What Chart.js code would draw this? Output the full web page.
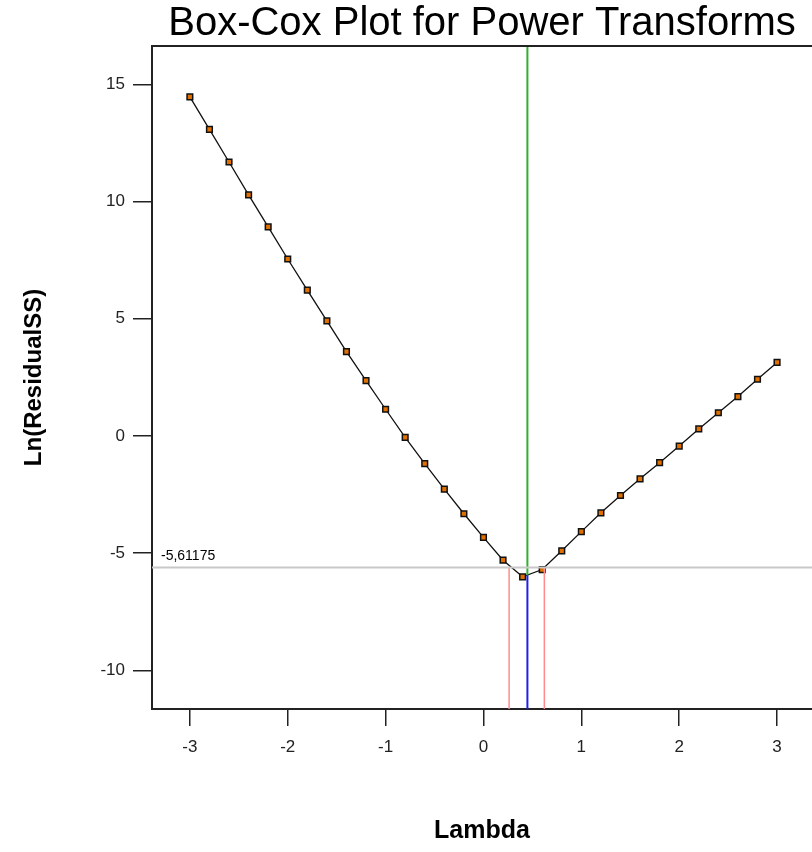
<!DOCTYPE html>
<html><head><meta charset="utf-8">
<script src="https://cdn.jsdelivr.net/npm/chart.js@4.4.1/dist/chart.umd.min.js"></script>
<style>html,body{margin:0;padding:0;background:#fff;} canvas{display:block;}</style>
</head><body>
<canvas id="c" width="812" height="852"></canvas>
<script>
// ---- data ----
const lambdas = [-3.0,-2.8,-2.6,-2.4,-2.2,-2.0,-1.8,-1.6,-1.4,-1.2,-1.0,-0.8,-0.6,-0.4,-0.2,0.0,0.2,0.4,0.6,0.8,1.0,1.2,1.4,1.6,1.8,2.0,2.2,2.4,2.6,2.8,3.0];
const lnResidualSS = [14.47,13.08,11.69,10.29,8.92,7.55,6.22,4.91,3.60,2.36,1.14,-0.06,-1.18,-2.27,-3.32,-4.33,-5.30,-6.01,-5.70,-4.90,-4.08,-3.28,-2.54,-1.83,-1.14,-0.43,0.30,0.99,1.68,2.42,3.14];
const xTicks = [-3,-2,-1,0,1,2,3];
const yTicks = [-10,-5,0,5,10,15];
const lambdaHat = 0.449;      // best lambda
const lnAtLambdaHat = -5.94;  // curve value at best lambda
const ciLow = 0.262, ciHigh = 0.622; // confidence limits
const cutoff = -5.61175;
const xRange = [-3.387, 3.357];
const yRange = [-11.65, 16.64];
const titleText = 'Box-Cox Plot for Power Transforms';
const xTitle = 'Lambda';
const yTitle = 'Ln(ResidualSS)';

Chart.defaults.font.family = '"Liberation Sans", Arial, sans-serif';
Chart.defaults.color = '#222';

const curve = lambdas.map((x,i)=>({x, y: lnResidualSS[i]}));
const seg = (x1,y1,x2,y2,color,w)=>({type:'line',data:[{x:x1,y:y1},{x:x2,y:y2}],borderColor:color,borderWidth:w,pointRadius:0,fill:false,tension:0});

const decor = {
  id:'decor',
  afterDraw(chart){
    const {ctx, chartArea:a, scales:{y}} = chart;
    ctx.save();
    ctx.strokeStyle = '#222'; ctx.lineWidth = 2;
    ctx.beginPath(); ctx.moveTo(a.left, a.top); ctx.lineTo(a.right, a.top); ctx.stroke();
    ctx.fillStyle = '#000';
    ctx.font = '40px "Liberation Sans", Arial, sans-serif';
    ctx.textAlign = 'center'; ctx.textBaseline = 'middle';
    ctx.fillText(titleText, (a.left + a.right)/2, a.top - 22);
    ctx.font = '14px "Liberation Sans", Arial, sans-serif';
    ctx.textAlign = 'left'; ctx.textBaseline = 'middle';
    ctx.fillText(cutoff.toFixed(5).replace('.', ','), a.left + 9, y.getPixelForValue(cutoff) - 11);
    ctx.restore();
  }
};

new Chart(document.getElementById('c'), {
  type:'scatter',
  data:{datasets:[
    seg(xRange[0], cutoff, xRange[1], cutoff, '#c8c8c8', 2),
    seg(ciLow, cutoff, ciLow, yRange[0], '#ff8c8c', 1.5),
    seg(ciHigh, cutoff, ciHigh, yRange[0], '#ff8c8c', 1.5),
    seg(lambdaHat, lnAtLambdaHat, lambdaHat, yRange[0], '#2020e8', 2),
    seg(lambdaHat, yRange[1], lambdaHat, lnAtLambdaHat, '#30b030', 2),
    {type:'line', data:curve, borderColor:'#111', borderWidth:1.3, tension:0, fill:false,
     pointStyle:'rect', pointRadius:4, pointBackgroundColor:'#e07000', pointBorderColor:'#111', pointBorderWidth:1.5}
  ]},
  options:{
    responsive:false, animation:false, devicePixelRatio:1,
    layout:{autoPadding:false, padding:{top:46, right:0, left:0, bottom:0}},
    plugins:{legend:{display:false}, tooltip:{enabled:false}, title:{display:false}},
    scales:{
      x:{type:'linear', min:xRange[0], max:xRange[1],
         afterBuildTicks(s){ s.ticks = xTicks.map(v=>({value:v})); },
         afterFit(s){ s.height = 143; s.paddingLeft = 0; s.paddingRight = 0; },
         grid:{display:true, drawOnChartArea:false, drawTicks:true, tickLength:17, color:'#222', lineWidth:1.5},
         border:{display:true, color:'#222', width:2},
         ticks:{font:{size:17}, color:'#222', padding:11, maxRotation:0},
         title:{display:true, text:xTitle, font:{size:25, weight:'bold'}, color:'#000', padding:{top:0,bottom:6}}
      },
      y:{type:'linear', min:yRange[0], max:yRange[1],
         afterBuildTicks(s){ s.ticks = yTicks.map(v=>({value:v})); },
         afterFit(s){ s.width = 152; s.paddingTop = 0; s.paddingBottom = 0; },
         grid:{display:true, drawOnChartArea:false, drawTicks:true, tickLength:19, color:'#222', lineWidth:1.5},
         border:{display:true, color:'#222', width:2},
         ticks:{font:{size:17}, color:'#222', padding:8},
         title:{display:true, text:yTitle, font:{size:24, weight:'bold'}, color:'#000', padding:{top:20,bottom:0}}
      }
    }
  },
  plugins:[decor]
});
</script>
</body></html>
